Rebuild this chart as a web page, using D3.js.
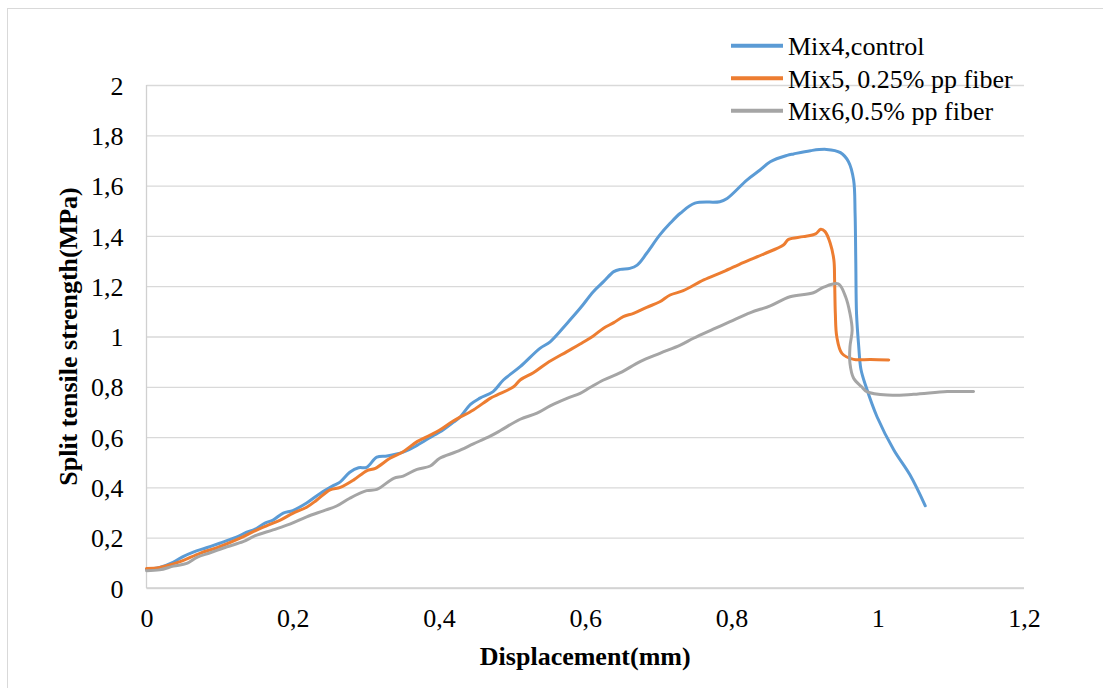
<!DOCTYPE html>
<html><head><meta charset="utf-8">
<script src="https://cdn.jsdelivr.net/npm/d3@7"></script>
<style>
html,body{margin:0;padding:0;background:#fff;}
svg text{font-family:"Liberation Serif","Tinos","Times New Roman",Times,"DejaVu Serif",serif !important;}
</style></head>
<body>
<svg id="chart" width="1103" height="688"></svg>
<script>
const seriesNames = ["Mix4,control", "Mix5, 0.25% pp fiber", "Mix6,0.5% pp fiber"];
const xTicks = [0, 0.2, 0.4, 0.6, 0.8, 1, 1.2];
const yTicks = [0, 0.2, 0.4, 0.6, 0.8, 1, 1.2, 1.4, 1.6, 1.8, 2];
const xTitle = "Displacement(mm)";
const yTitle = "Split tensile strength(MPa)";

const mix4 = [[0,0.075],[0.018,0.082],[0.037,0.103],[0.05,0.125],[0.064,0.143],[0.082,0.16],[0.1,0.178],[0.123,0.202],[0.137,0.222],[0.148,0.233],[0.162,0.258],[0.173,0.27],[0.187,0.298],[0.2,0.308],[0.219,0.338],[0.237,0.375],[0.256,0.408],[0.265,0.422],[0.278,0.46],[0.29,0.478],[0.301,0.48],[0.315,0.52],[0.329,0.525],[0.351,0.54],[0.37,0.567],[0.392,0.606],[0.401,0.62],[0.42,0.66],[0.429,0.68],[0.443,0.73],[0.456,0.755],[0.474,0.781],[0.488,0.827],[0.511,0.88],[0.538,0.953],[0.552,0.979],[0.575,1.052],[0.593,1.112],[0.611,1.178],[0.625,1.218],[0.639,1.258],[0.648,1.267],[0.661,1.271],[0.671,1.284],[0.684,1.331],[0.702,1.404],[0.716,1.45],[0.73,1.49],[0.75,1.53],[0.784,1.536],[0.794,1.549],[0.821,1.622],[0.839,1.662],[0.853,1.695],[0.876,1.72],[0.885,1.726],[0.908,1.739],[0.93,1.744],[0.949,1.731],[0.96,1.695],[0.967,1.622],[0.969,1.49],[0.970,1.29],[0.971,1.09],[0.974,0.96],[0.977,0.87],[0.984,0.8],[0.999,0.681],[1.022,0.549],[1.044,0.45],[1.065,0.327]];
const mix5 = [[0,0.078],[0.018,0.082],[0.046,0.105],[0.073,0.138],[0.1,0.164],[0.128,0.198],[0.146,0.224],[0.164,0.247],[0.183,0.27],[0.2,0.297],[0.219,0.321],[0.233,0.35],[0.251,0.39],[0.265,0.4],[0.283,0.429],[0.301,0.466],[0.313,0.476],[0.333,0.516],[0.351,0.542],[0.37,0.582],[0.388,0.608],[0.401,0.628],[0.42,0.665],[0.447,0.708],[0.47,0.754],[0.479,0.767],[0.502,0.8],[0.511,0.827],[0.529,0.856],[0.547,0.893],[0.575,0.94],[0.593,0.97],[0.611,1.002],[0.625,1.033],[0.639,1.055],[0.652,1.079],[0.666,1.092],[0.684,1.116],[0.702,1.138],[0.716,1.165],[0.734,1.182],[0.762,1.225],[0.789,1.258],[0.816,1.294],[0.844,1.328],[0.871,1.364],[0.878,1.386],[0.898,1.397],[0.915,1.408],[0.922,1.426],[0.928,1.417],[0.935,1.371],[0.94,1.304],[0.941,1.225],[0.942,1.092],[0.944,0.999],[0.951,0.933],[0.967,0.909],[0.99,0.909],[1.015,0.907]];
const mix6 = [[0,0.069],[0.018,0.072],[0.037,0.087],[0.055,0.098],[0.069,0.122],[0.087,0.14],[0.11,0.164],[0.132,0.184],[0.148,0.207],[0.173,0.231],[0.196,0.254],[0.219,0.283],[0.242,0.307],[0.26,0.326],[0.278,0.357],[0.301,0.387],[0.315,0.392],[0.338,0.436],[0.351,0.445],[0.37,0.472],[0.388,0.485],[0.401,0.516],[0.424,0.542],[0.447,0.573],[0.47,0.604],[0.484,0.626],[0.511,0.671],[0.534,0.695],[0.552,0.724],[0.575,0.754],[0.593,0.774],[0.607,0.798],[0.625,0.827],[0.648,0.856],[0.675,0.9],[0.702,0.933],[0.73,0.966],[0.748,0.993],[0.775,1.029],[0.798,1.059],[0.826,1.095],[0.853,1.122],[0.88,1.158],[0.912,1.174],[0.926,1.196],[0.946,1.209],[0.956,1.158],[0.962,1.092],[0.965,1.026],[0.962,0.959],[0.962,0.893],[0.967,0.834],[0.978,0.8],[0.985,0.781],[1.013,0.767],[1.049,0.77],[1.095,0.781],[1.131,0.781]];

const seriesData = [mix4, mix5, mix6];
const colors = ["#5B9BD5", "#ED7D31", "#A5A5A5"];

const svg = d3.select("#chart");
const W = 1103, H = 688;
const plot = {left: 146.5, right: 1024, top: 85, bottom: 588};

svg.append("rect").attr("x", 7.5).attr("y", 8.5).attr("width", W).attr("height", H)
  .attr("fill", "none").attr("stroke", "#d9d9d9").attr("stroke-width", 1);

const x = d3.scaleLinear().domain([0, 1.2]).range([plot.left, plot.right]);
const y = d3.scaleLinear().domain([0, 2]).range([plot.bottom, plot.top]);

const fmt = v => String(+v.toFixed(1)).replace(".", ",");

const yAxis = d3.axisLeft(y).tickValues(yTicks).tickSize(-(plot.right - plot.left)).tickPadding(23).tickFormat(fmt);
const gy = svg.append("g").attr("transform", `translate(${plot.left},0)`).call(yAxis);
gy.select(".domain").remove();
gy.attr("font-family", null).attr("font-size", null);
gy.selectAll(".tick line").attr("stroke", "#d9d9d9").attr("stroke-width", 1.3);
gy.selectAll(".tick text").attr("font-size", 26).attr("fill", "#000").attr("dy", "0.35em");

const xAxis = d3.axisBottom(x).tickValues(xTicks).tickSize(0).tickPadding(21).tickFormat(fmt);
const gx = svg.append("g").attr("transform", `translate(0,${plot.bottom})`).call(xAxis);
gx.select(".domain").remove();
gx.attr("font-family", null).attr("font-size", null);
gx.selectAll(".tick text").attr("font-size", 26).attr("fill", "#000");

svg.append("line").attr("x1", plot.left).attr("x2", plot.left).attr("y1", plot.top).attr("y2", plot.bottom)
  .attr("stroke", "#d0d0d0").attr("stroke-width", 1.3);
svg.append("line").attr("x1", plot.left).attr("x2", plot.right).attr("y1", plot.bottom).attr("y2", plot.bottom)
  .attr("stroke", "#d0d0d0").attr("stroke-width", 1.3);

const line = d3.line().x(d => x(d[0])).y(d => y(d[1])).curve(d3.curveCatmullRom.alpha(0.5));
seriesData.forEach((s, i) => {
  svg.append("path").datum(s).attr("d", line).attr("fill", "none")
    .attr("stroke", colors[i]).attr("stroke-width", 3).attr("stroke-linejoin", "round").attr("stroke-linecap", "round");
});

svg.append("text").attr("x", (plot.left + plot.right) / 2).attr("y", 665).attr("text-anchor", "middle")
  .attr("font-size", 26).attr("font-weight", "bold").text(xTitle);
svg.append("text").attr("transform", `translate(77,${(plot.top + plot.bottom) / 2}) rotate(-90)`)
  .attr("text-anchor", "middle").attr("font-size", 26).attr("font-weight", "bold").text(yTitle);

const legY = [45.7, 78.3, 110.7];
seriesNames.forEach((n, i) => {
  svg.append("line").attr("x1", 731).attr("x2", 783).attr("y1", legY[i]).attr("y2", legY[i])
    .attr("stroke", colors[i]).attr("stroke-width", 4);
  svg.append("text").attr("x", 788).attr("y", legY[i] + 9.3).attr("font-size", 26).attr("fill", "#000").text(n);
});
</script>
</body></html>
